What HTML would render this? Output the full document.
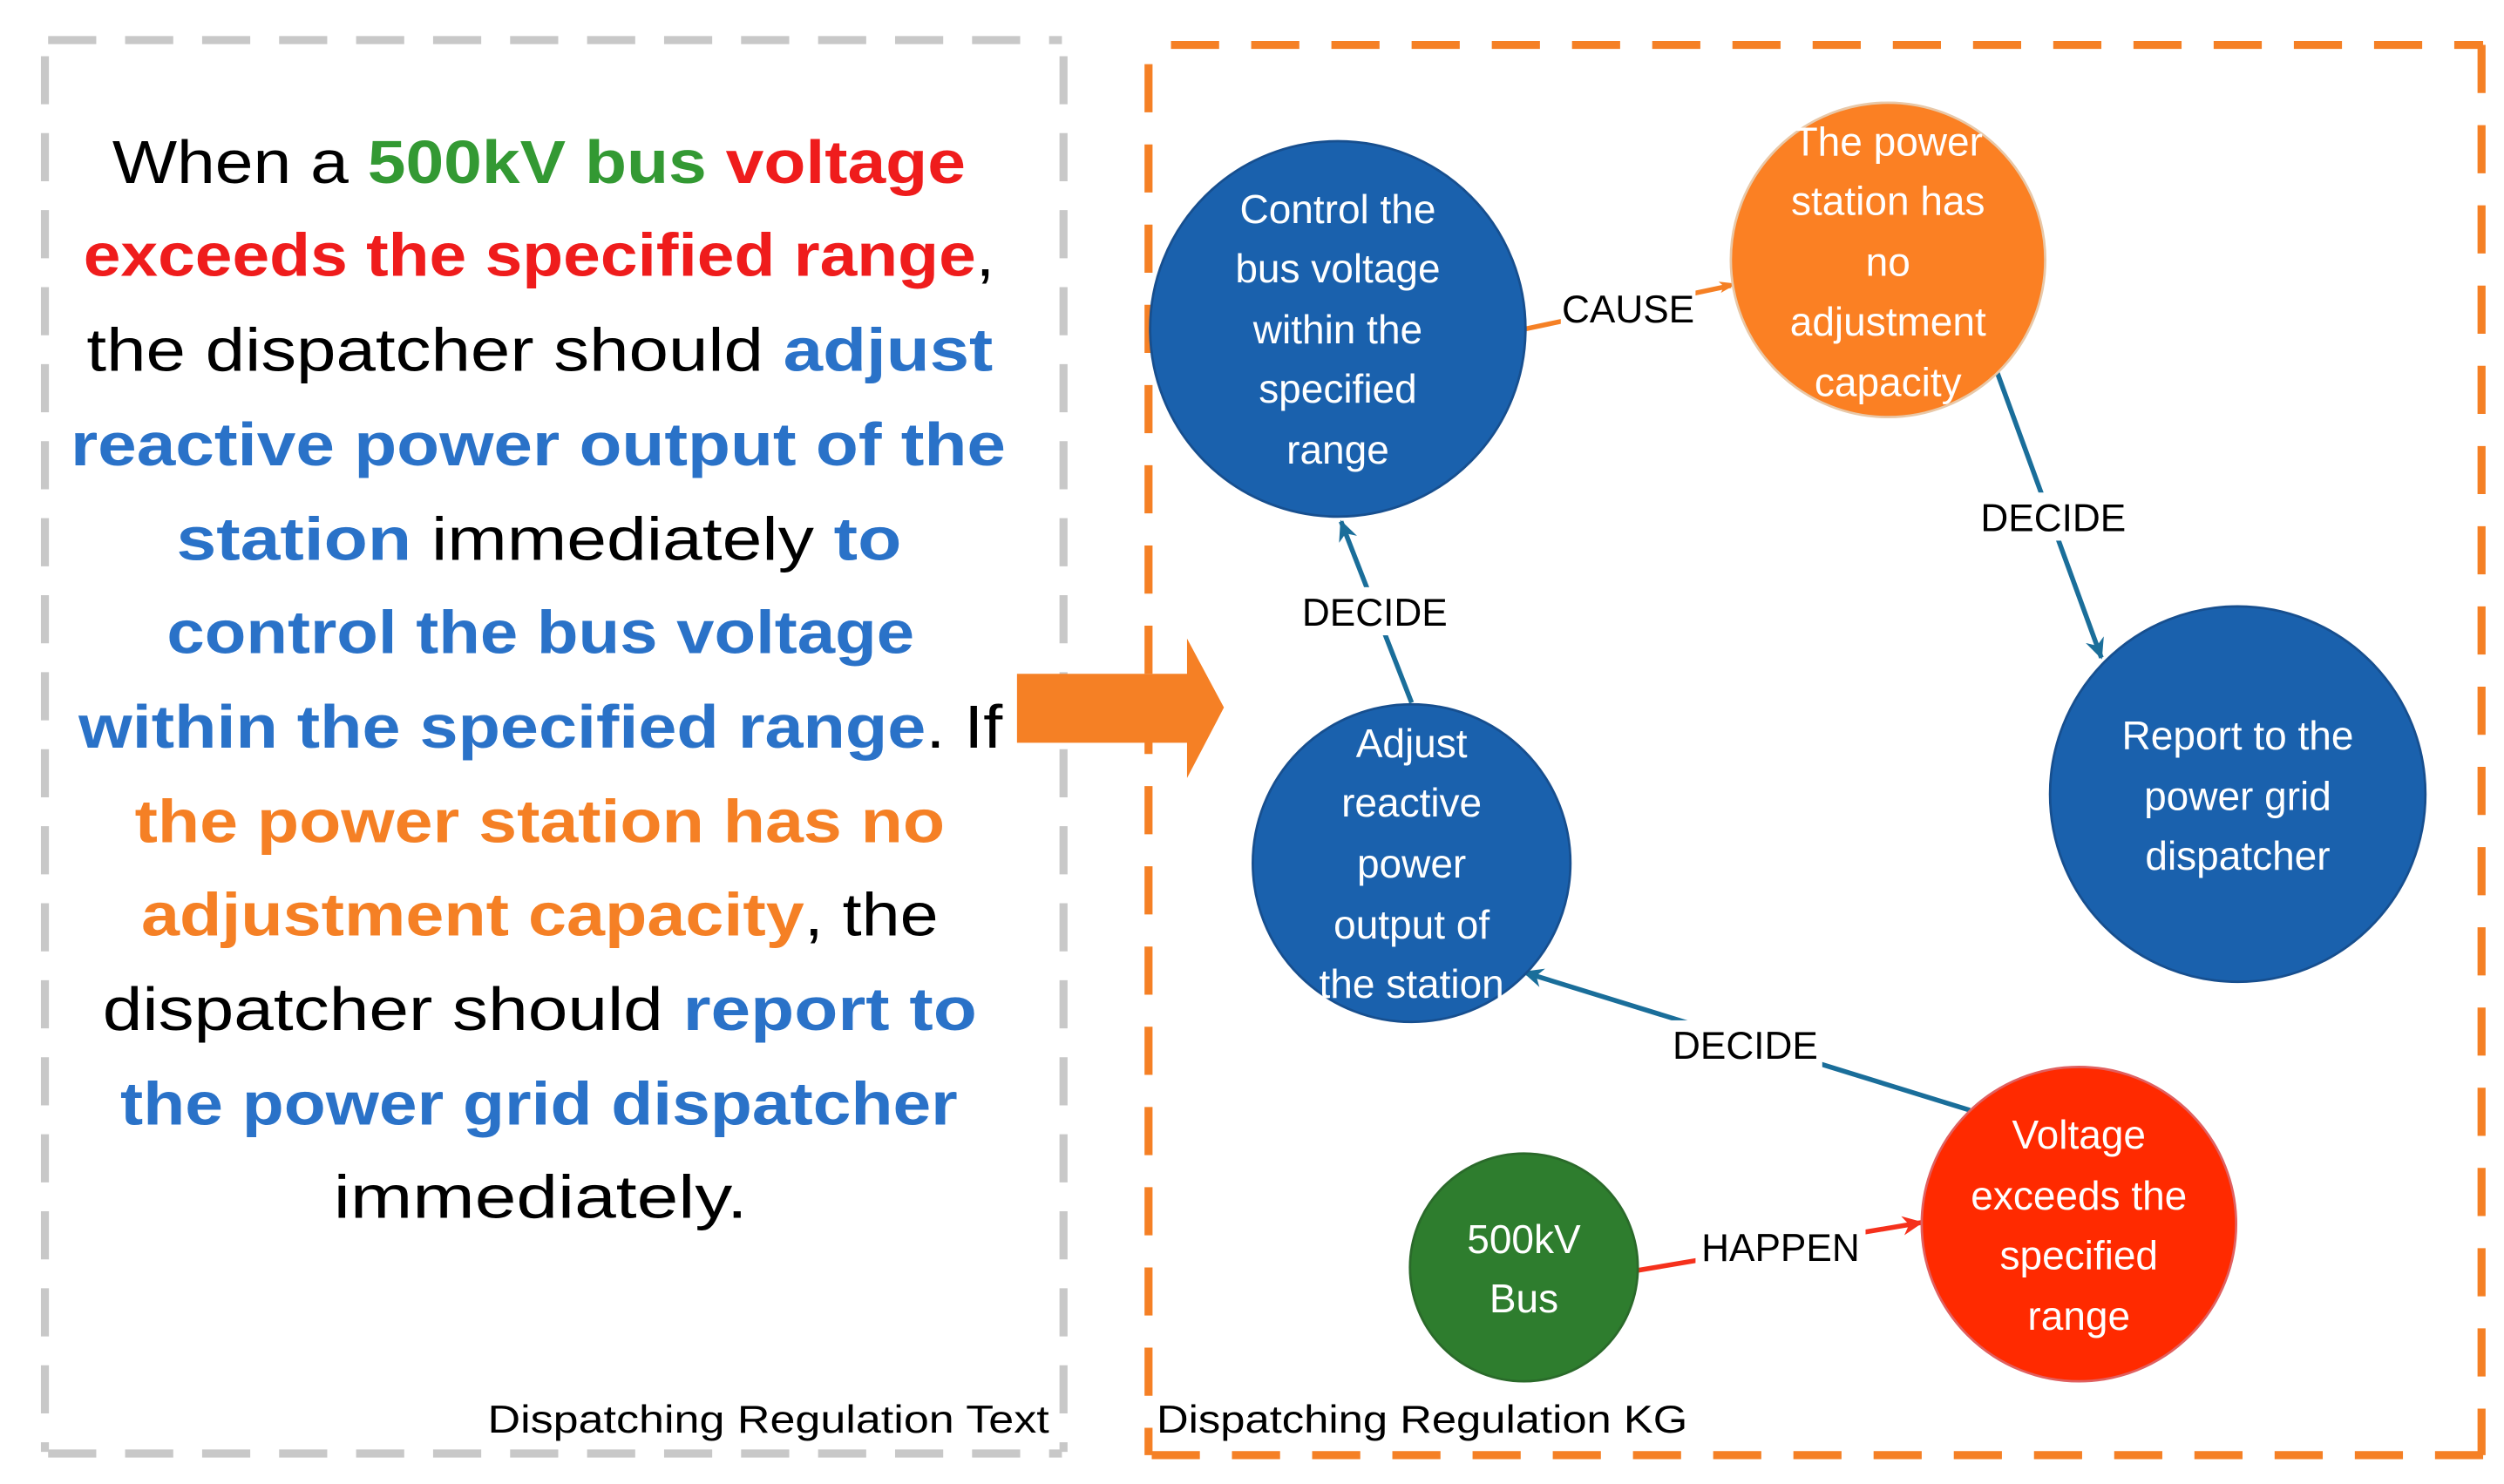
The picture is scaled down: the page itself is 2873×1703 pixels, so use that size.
<!DOCTYPE html>
<html><head><meta charset="utf-8"><style>html,body{margin:0;padding:0;background:#fff}svg{display:block}</style></head>
<body>
<svg width="2873" height="1703" viewBox="0 0 1561 925" preserveAspectRatio="none" xmlns="http://www.w3.org/2000/svg" font-family="Liberation Sans, sans-serif">
<defs>
<marker id="ao" markerWidth="8" markerHeight="8" refX="7" refY="4" orient="auto" markerUnits="userSpaceOnUse"><path d="M0,0 L12,4 L0,8 L3,4Z" fill="#f58025" transform="scale(0.9)"/></marker>
<marker id="at" markerWidth="14" markerHeight="12" refX="12" refY="6" orient="auto" markerUnits="userSpaceOnUse"><path d="M0,0 L13,6 L0,12 L4,6Z" fill="#1a6e9a"/></marker>
<marker id="ar" markerWidth="14" markerHeight="12" refX="12" refY="6" orient="auto" markerUnits="userSpaceOnUse"><path d="M0,0 L13,6 L0,12 L4,6Z" fill="#f5311c"/></marker>
</defs>
<!-- gray box -->
<g stroke="#c8c8c8" stroke-width="5" fill="none" stroke-dasharray="30 18">
<line x1="30" y1="25" x2="662" y2="25"/>
<line x1="28" y1="35" x2="28" y2="905"/>
<line x1="663" y1="35" x2="663" y2="905"/>
<line x1="30" y1="906" x2="662" y2="906"/>
</g>
<!-- orange box -->
<g stroke="#f58025" stroke-width="5" fill="none" stroke-dasharray="30 20">
<line x1="730" y1="28" x2="1548" y2="28"/>
<line x1="716" y1="40" x2="716" y2="907"/>
<line x1="1547" y1="28" x2="1547" y2="907"/>
<line x1="718" y1="907" x2="1548" y2="907"/>
</g>
<!-- main text -->
<g font-size="38" fill="#000" lengthAdjust="spacingAndGlyphs">
<text x="70" y="114" textLength="532" lengthAdjust="spacingAndGlyphs">When a <tspan fill="#339933" font-weight="bold">500kV bus </tspan><tspan fill="#ef1c1c" font-weight="bold">voltage</tspan></text>
<text x="52" y="172" textLength="568" lengthAdjust="spacingAndGlyphs"><tspan fill="#ef1c1c" font-weight="bold">exceeds the specified range</tspan>,</text>
<text x="54" y="231" textLength="565" lengthAdjust="spacingAndGlyphs">the dispatcher should <tspan fill="#2a72c8" font-weight="bold">adjust</tspan></text>
<text x="44" y="290" textLength="583" lengthAdjust="spacingAndGlyphs" fill="#2a72c8" font-weight="bold">reactive power output of the</text>
<text x="110" y="349" textLength="452" lengthAdjust="spacingAndGlyphs"><tspan fill="#2a72c8" font-weight="bold">station</tspan> immediately <tspan fill="#2a72c8" font-weight="bold">to</tspan></text>
<text x="104" y="407" textLength="466" lengthAdjust="spacingAndGlyphs" fill="#2a72c8" font-weight="bold">control the bus voltage</text>
<text x="49" y="466" textLength="576" lengthAdjust="spacingAndGlyphs"><tspan fill="#2a72c8" font-weight="bold">within the specified range</tspan>. If</text>
<text x="84" y="525" textLength="505" lengthAdjust="spacingAndGlyphs" fill="#f58025" font-weight="bold">the power station has no</text>
<text x="88" y="583" textLength="497" lengthAdjust="spacingAndGlyphs"><tspan fill="#f58025" font-weight="bold">adjustment capacity</tspan>, the</text>
<text x="64" y="642" textLength="545" lengthAdjust="spacingAndGlyphs">dispatcher should <tspan fill="#2a72c8" font-weight="bold">report to</tspan></text>
<text x="75" y="701" textLength="522" lengthAdjust="spacingAndGlyphs" fill="#2a72c8" font-weight="bold">the power grid dispatcher</text>
<text x="208" y="759" textLength="258" lengthAdjust="spacingAndGlyphs">immediately.</text>
</g>
<!-- big arrow -->
<path d="M634,420 L740,420 L740,398 L763,441 L740,485 L740,463 L634,463Z" fill="#f58025"/>
<!-- captions -->
<text x="654" y="893" font-size="24" text-anchor="end" textLength="350" lengthAdjust="spacingAndGlyphs">Dispatching Regulation Text</text>
<text x="721" y="893" font-size="24" textLength="331" lengthAdjust="spacingAndGlyphs">Dispatching Regulation KG</text>
<!-- edges -->
<line x1="951" y1="205" x2="1079" y2="178" stroke="#f58025" stroke-width="3" marker-end="url(#ao)"/>
<line x1="1245" y1="232" x2="1310" y2="410" stroke="#1a6e9a" stroke-width="3" marker-end="url(#at)"/>
<line x1="880" y1="438" x2="836" y2="325" stroke="#1a6e9a" stroke-width="3" marker-end="url(#at)"/>
<line x1="1228" y1="692" x2="950" y2="606" stroke="#1a6e9a" stroke-width="3" marker-end="url(#at)"/>
<line x1="1020" y1="792" x2="1198" y2="762" stroke="#f5311c" stroke-width="3" marker-end="url(#ar)"/>
<!-- nodes -->
<circle cx="834" cy="205" r="117" fill="#1a61ad" stroke="#174f8f" stroke-width="1.5"/>
<circle cx="1177" cy="162" r="98" fill="#fb8023" stroke="#e8c8a8" stroke-width="1.5"/>
<circle cx="1395" cy="495" r="117" fill="#1a61ad" stroke="#174f8f" stroke-width="1.5"/>
<circle cx="880" cy="538" r="99" fill="#1a61ad" stroke="#174f8f" stroke-width="1.5"/>
<circle cx="1296" cy="763" r="98" fill="#ff2a00" stroke="#e06060" stroke-width="1.5"/>
<circle cx="950" cy="790" r="71" fill="#2e7d2e" stroke="#2a6a2a" stroke-width="1.5"/>
<!-- edge labels -->
<g font-size="24" text-anchor="middle" fill="#000">
<rect x="973" y="178" width="84" height="30" fill="#fff"/>
<text x="1015" y="201">CAUSE</text>
<rect x="1232" y="307" width="96" height="30" fill="#fff"/>
<text x="1280" y="331">DECIDE</text>
<rect x="809" y="366" width="96" height="30" fill="#fff"/>
<text x="857" y="390">DECIDE</text>
<rect x="1040" y="636" width="96" height="30" fill="#fff"/>
<text x="1088" y="660">DECIDE</text>
<rect x="1057" y="762" width="106" height="30" fill="#fff"/>
<text x="1110" y="786">HAPPEN</text>
</g>
<!-- node labels -->
<g font-size="25" fill="#fff" text-anchor="middle">
<text x="834" y="139">Control the</text><text x="834" y="176">bus voltage</text><text x="834" y="214">within the</text><text x="834" y="251">specified</text><text x="834" y="289">range</text>
<text x="1177" y="97">The power</text><text x="1177" y="134">station has</text><text x="1177" y="172">no</text><text x="1177" y="209">adjustment</text><text x="1177" y="247">capacity</text>
<text x="1395" y="467">Report to the</text><text x="1395" y="505">power grid</text><text x="1395" y="542">dispatcher</text>
<text x="880" y="472">Adjust</text><text x="880" y="509">reactive</text><text x="880" y="547">power</text><text x="880" y="585">output of</text><text x="880" y="622">the station</text>
<text x="1296" y="716">Voltage</text><text x="1296" y="754">exceeds the</text><text x="1296" y="791">specified</text><text x="1296" y="829">range</text>
<text x="950" y="781">500kV</text><text x="950" y="818">Bus</text>
</g>
</svg>
</body></html>
